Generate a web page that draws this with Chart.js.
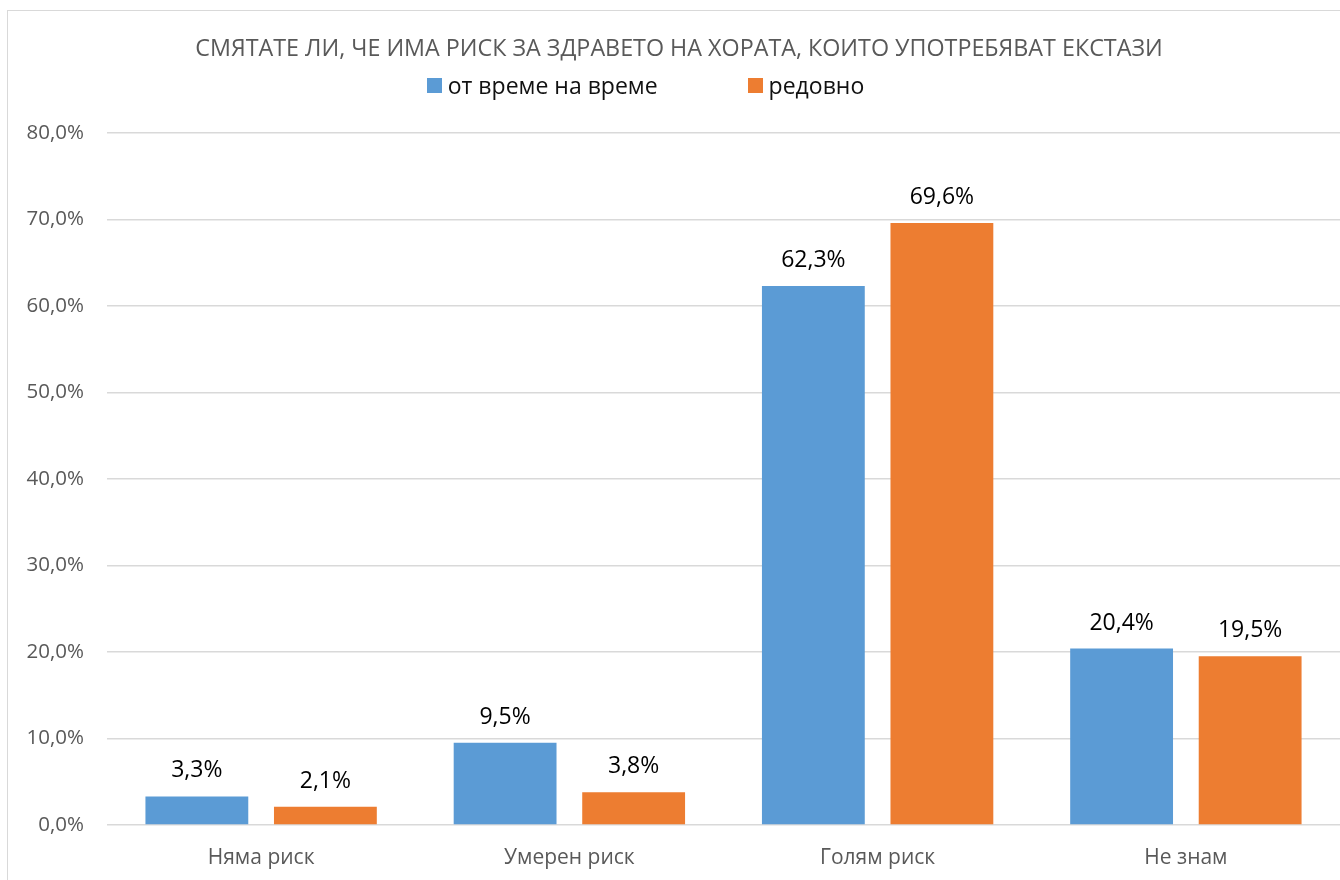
<!DOCTYPE html>
<html lang="bg">
<head>
<meta charset="utf-8">
<title>Риск за здравето – екстази</title>
<script src="https://cdn.jsdelivr.net/npm/chart.js@4/dist/chart.umd.min.js"></script>
<style>
  html, body { margin: 0; padding: 0; background: #fff; overflow: hidden; }
  body { width: 1340px; height: 880px; position: relative; font-family: "Open Sans", sans-serif; }
  #frame { position: absolute; left: 7px; top: 10px; width: 1400px; height: 900px; border: 1px solid #d9d9d9; }
  #wrap { position: absolute; left: 0; top: 0; width: 1340px; height: 880px; }
  #legend { position: absolute; left: 0; top: 70px; width: 1291px; display: flex; justify-content: center; gap: 90px; }
  #legend .item { display: flex; align-items: center; font-size: 23px; color: #111; line-height: 30px; }
  #legend .box { width: 15px; height: 15px; margin-right: 6px; }
</style>
</head>
<body>
<div id="frame"></div>
<div id="wrap"><canvas id="riskChart"></canvas></div>
<div id="legend"></div>
<script>
const chartTitle = 'СМЯТАТЕ ЛИ, ЧЕ ИМА РИСК ЗА ЗДРАВЕТО НА ХОРАТА, КОИТО УПОТРЕБЯВАТ ЕКСТАЗИ';
const categories = ['Няма риск', 'Умерен риск', 'Голям риск', 'Не знам'];
const seriesNames = ['от време на време', 'редовно'];
const occasional = [3.3, 9.5, 62.3, 20.4];
const regular = [2.1, 3.8, 69.6, 19.5];
const yTicks = [0, 10, 20, 30, 40, 50, 60, 70, 80];
const colors = ['#5b9bd5', '#ed7d31'];

function pct(v) {
    return Number(v).toFixed(1).replace('.', ',') + '%';
}

// values written above each bar
const barValues = {
    id: 'barValues',
    afterDatasetsDraw(chart) {
        const ctx = chart.ctx;
        ctx.save();
        ctx.font = '23px "Open Sans", sans-serif';
        ctx.fillStyle = '#000';
        ctx.textAlign = 'center';
        ctx.textBaseline = 'alphabetic';
        chart.data.datasets.forEach((ds, i) => {
            chart.getDatasetMeta(i).data.forEach((bar, j) => {
                ctx.fillText(pct(ds.data[j]), bar.x, bar.y - 19);
            });
        });
        ctx.restore();
    }
};

const chart = new Chart(document.getElementById('riskChart'), {
    type: 'bar',
    data: {
        labels: categories,
        datasets: [
            { label: seriesNames[0], data: occasional, backgroundColor: colors[0] },
            { label: seriesNames[1], data: regular, backgroundColor: colors[1] }
        ]
    },
    options: {
        responsive: true,
        maintainAspectRatio: false,
        animation: false,
        layout: { padding: { left: 18, right: 0, top: 0, bottom: 0 } },
        datasets: { bar: { categoryPercentage: 0.834, barPercentage: 0.8 } },
        plugins: {
            legend: { display: false },
            tooltip: { enabled: false },
            title: {
                display: true,
                text: chartTitle,
                color: '#595959',
                font: { family: '"Open Sans", sans-serif', size: 23.3, weight: 'normal' },
                padding: { top: 35, bottom: 70 }
            }
        },
        scales: {
            x: {
                afterFit(axis) { axis.height = 55; },
                grid: { display: false, drawTicks: false },
                border: { display: false },
                ticks: { color: '#595959', padding: 20, font: { family: '"Open Sans", sans-serif', size: 21 } }
            },
            y: {
                min: 0,
                max: 80,
                afterFit(axis) { axis.width = 89; },
                afterBuildTicks(axis) { axis.ticks = yTicks.map(v => ({ value: v })); },
                grid: { color: '#d9d9d9', lineWidth: 1.5, drawTicks: false },
                border: { display: false },
                ticks: {
                    color: '#595959',
                    padding: 23,
                    font: { family: '"Open Sans", sans-serif', size: 20.5 },
                    callback: v => pct(v)
                }
            }
        }
    },
    plugins: [barValues]
});

// legend built from the chart's own datasets
const legendEl = document.getElementById('legend');
chart.data.datasets.forEach(ds => {
    const item = document.createElement('div');
    item.className = 'item';
    const box = document.createElement('span');
    box.className = 'box';
    box.style.background = ds.backgroundColor;
    item.appendChild(box);
    item.appendChild(document.createTextNode(ds.label));
    legendEl.appendChild(item);
});
</script>
</body>
</html>
